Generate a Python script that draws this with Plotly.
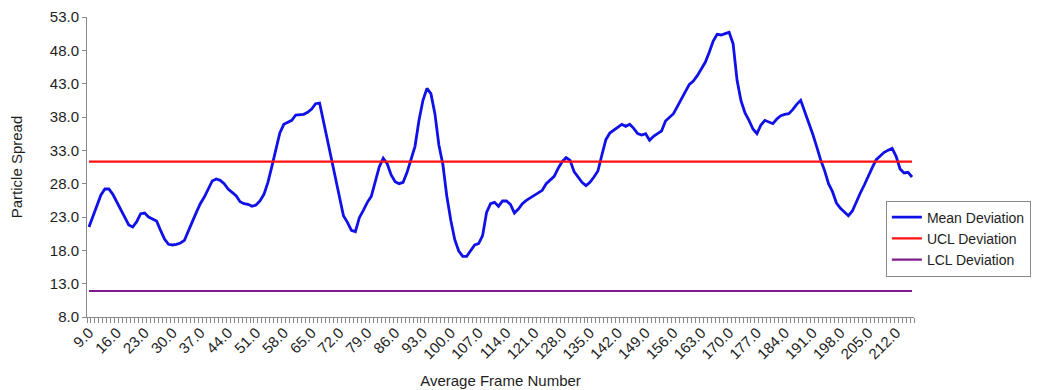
import plotly.graph_objects as go

frames = list(range(9, 217))
mean_dev = [
    21.5, 23.0, 24.8, 26.3, 27.2, 27.2, 26.4, 25.3, 24.2, 22.9,
    21.8, 21.5, 22.3, 23.5, 23.6, 23.0, 22.7, 22.4, 21.0, 19.7,
    18.9, 18.8, 18.9, 19.1, 19.5, 20.8, 22.3, 23.7, 25.0, 26.0,
    27.3, 28.4, 28.7, 28.5, 28.0, 27.2, 26.7, 26.2, 25.3, 25.0,
    24.9, 24.6, 24.8, 25.4, 26.4, 28.2, 30.6, 33.0, 35.6, 36.9,
    37.2, 37.5, 38.3, 38.4, 38.4, 38.7, 39.2, 40.0, 40.1, 37.3,
    34.4, 31.6, 28.5, 25.8, 23.2, 22.2, 21.0, 20.8, 22.9, 24.0,
    25.2, 26.1, 28.2, 30.5, 31.8, 31.0, 29.3, 28.3, 28.0, 28.2,
    29.7, 31.6, 33.6, 37.5, 40.5, 42.3, 41.5, 38.5, 33.8, 30.9,
    26.1, 22.5, 19.6, 17.9, 17.1, 17.1, 18.0, 18.8, 19.0, 20.2,
    23.7, 25.0, 25.2, 24.6, 25.4, 25.4, 24.9, 23.6, 24.2, 25.0,
    25.5, 25.9, 26.2, 26.6, 27.0, 28.0, 28.6, 29.1, 30.3, 31.3,
    31.9, 31.5, 29.8, 28.9, 28.2, 27.7, 28.2, 29.0, 29.9, 32.3,
    34.6, 35.6, 36.0, 36.4, 36.9, 36.6, 36.9, 36.3, 35.5, 35.3,
    35.5, 34.5, 35.1, 35.5, 35.9, 37.4, 38.0, 38.5, 39.6, 40.6,
    41.8, 42.9, 43.4, 44.2, 45.1, 46.2, 47.7, 49.4, 50.4, 50.3,
    50.5, 50.7, 49.0, 43.5, 40.4, 38.6, 37.5, 36.2, 35.5, 36.8,
    37.5, 37.2, 37.0, 37.7, 38.2, 38.4, 38.5, 39.1, 39.9, 40.5,
    38.9, 37.0, 35.5, 33.6, 31.6, 30.0, 28.0, 26.8, 25.1, 24.3,
    23.7, 23.2, 23.9, 25.3, 26.6, 27.8, 29.2, 30.4, 31.6, 32.2,
    32.7, 33.0, 33.3, 32.1, 30.2, 29.6, 29.7, 29.0,
]
ucl_value = 31.3
lcl_value = 11.9
ucl_dev = [ucl_value] * len(frames)
lcl_dev = [lcl_value] * len(frames)

tick_vals = [9, 16, 23, 30, 37, 44, 51, 58, 65, 72, 79, 86, 93, 100, 107,
             114, 121, 128, 135, 142, 149, 156, 163, 170, 177, 184, 191, 198, 205, 212]
tick_text = ["9.0", "16.0", "23.0", "30.0", "37.0", "44.0", "51.0", "58.0", "65.0",
             "72.0", "79.0", "86.0", "93.0", "100.0", "107.0", "114.0", "121.0",
             "128.0", "135.0", "142.0", "149.0", "156.0", "163.0", "170.0", "177.0",
             "184.0", "191.0", "198.0", "205.0", "212.0"]
y_ticks = [8, 13, 18, 23, 28, 33, 38, 43, 48, 53]

FONT = "Liberation Sans, Arial, sans-serif"
TXT = "#1e1e1e"

fig = go.Figure()
fig.add_trace(go.Scatter(x=frames, y=mean_dev, mode="lines", name="Mean Deviation",
                         line=dict(color="#1010E8", width=2.8)))
fig.add_trace(go.Scatter(x=frames, y=ucl_dev, mode="lines", name="UCL Deviation",
                         line=dict(color="#FF1010", width=2.2)))
fig.add_trace(go.Scatter(x=frames, y=lcl_dev, mode="lines", name="LCL Deviation",
                         line=dict(color="#801C8C", width=2.2)))

# page body has an 8px margin, so the figure is sized to 1032x382
fig.update_layout(
    width=1032, height=382,
    margin=dict(l=79, r=124, t=9, b=73),
    paper_bgcolor="white", plot_bgcolor="white",
    font=dict(family=FONT, size=15, color=TXT),
    showlegend=True,
    legend=dict(x=0.966, y=0.388, xanchor="left", yanchor="top",
                bordercolor="#888888", borderwidth=1, bgcolor="white",
                font=dict(family=FONT, size=14, color=TXT),
                itemwidth=30, tracegroupgap=0),
    xaxis=dict(
        range=[8.5, 216.5], tickmode="array", tickvals=tick_vals, ticktext=tick_text,
        tickangle=-45, ticks="", showgrid=False, zeroline=False, automargin=False,
        showline=True, linecolor="#888888", linewidth=1,
        tickfont=dict(family=FONT, size=15, color=TXT),
        minor=dict(tickmode="linear", tick0=8.5, dtick=1, ticks="outside",
                   ticklen=5, tickcolor="#888888", showgrid=False),
        title=dict(text="Average Frame Number", standoff=14,
                   font=dict(family=FONT, size=15, color=TXT)),
    ),
    yaxis=dict(
        range=[8, 53], tickmode="array", tickvals=y_ticks,
        ticktext=[f"{v:.1f}" for v in y_ticks],
        ticks="outside", ticklen=4, tickcolor="#888888", automargin=False,
        showgrid=False, zeroline=False,
        showline=True, linecolor="#888888", linewidth=1,
        tickfont=dict(family=FONT, size=15, color=TXT),
        title=dict(text="Particle Spread", standoff=29,
                   font=dict(family=FONT, size=15, color=TXT)),
    ),
)

fig.write_html("out.html")
